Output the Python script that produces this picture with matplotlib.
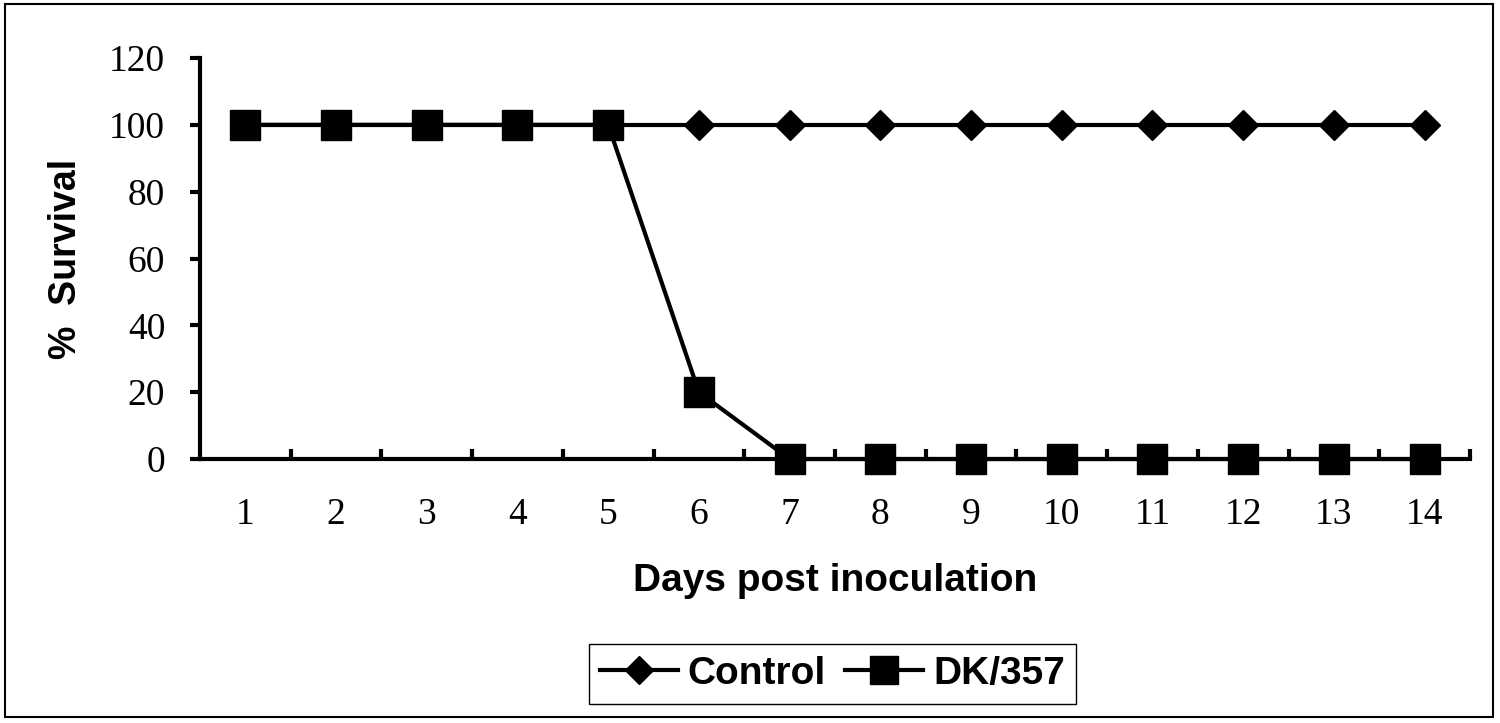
import numpy as np
import matplotlib
matplotlib.use("Agg")
import matplotlib.pyplot as plt
from matplotlib.patches import Rectangle

# dados
days = [1, 2, 3, 4, 5, 6, 7, 8, 9, 10, 11, 12, 13, 14]
control = [100, 100, 100, 100, 100, 100, 100, 100, 100, 100, 100, 100, 100, 100]
dk357 = [100, 100, 100, 100, 100, 20, 0, 0, 0, 0, 0, 0, 0, 0]
y_ticks = [0, 20, 40, 60, 80, 100, 120]

fig = plt.figure(figsize=(15, 7.23), dpi=100)
ax = fig.add_axes([0.1333, 0.3651, 0.98 - 0.1333, 0.9198 - 0.3651])

ax.plot(days, control, color="black", lw=3, marker="D", ms=15,
        label="Control", clip_on=False, zorder=3)
ax.plot(days, dk357, color="black", lw=3, marker="s", ms=21,
        label="DK/357", clip_on=False, zorder=4)

ax.set_xlim(0.5, 14.5)
ax.set_ylim(0, 120)

for s in ["top", "right"]:
    ax.spines[s].set_visible(False)
for s in ["left", "bottom"]:
    ax.spines[s].set_linewidth(3)
    ax.spines[s].set_capstyle("projecting")

ax.set_yticks(y_ticks)
ax.set_yticklabels([str(v) for v in y_ticks], family="Liberation Serif", fontsize=27)
ax.tick_params(axis="y", direction="out", length=7, width=3, pad=18)

ax.set_xticks(days)
ax.set_xticklabels([str(d) for d in days], family="Liberation Serif", fontsize=27)
ax.set_xticks(np.arange(1.5, 15, 1), minor=True)
ax.tick_params(axis="x", which="major", length=0, pad=28)
ax.tick_params(axis="x", which="minor", direction="in", length=7, width=3)

ax.set_xlabel("Days post inoculation", family="Liberation Sans", fontweight="bold",
              fontsize=28, labelpad=22)
ax.set_ylabel("%  Survival", family="Liberation Sans", fontweight="bold",
              fontsize=27, labelpad=18)

leg = fig.legend(loc="center", bbox_to_anchor=(0.555, 0.068), ncol=2,
                 prop={"family": "Liberation Sans", "weight": "bold", "size": 28},
                 fancybox=False, framealpha=1, edgecolor="black",
                 handlelength=2.0, handletextpad=0.25, columnspacing=0.5,
                 borderpad=0.3, markerscale=0.95)
leg.get_frame().set_linewidth(1)

fig.patches.append(Rectangle((0.003, 0.008), 0.992, 0.986, transform=fig.transFigure,
                             fill=False, edgecolor="black", lw=1.5))

fig.savefig("out.png", dpi=100)
